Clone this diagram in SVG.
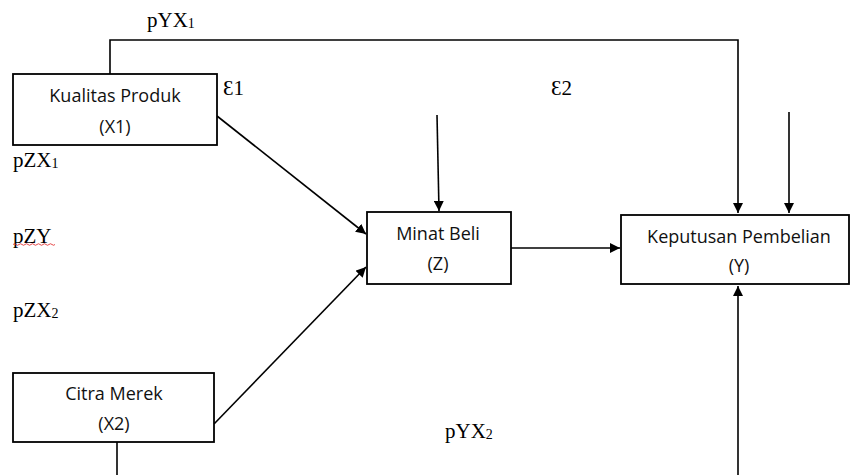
<svg xmlns="http://www.w3.org/2000/svg" width="850" height="475" viewBox="0 0 850 475">
<style>
.box{fill:#fff;stroke:#000;stroke-width:1.8}
.lbl{font-family:"Open Sans","Noto Sans","Liberation Sans",sans-serif;font-size:18px;fill:#111;text-anchor:middle}
.sym{font-family:"Liberation Serif","Times New Roman",serif;font-size:21px;fill:#000}
.sub{font-size:14px}
.ln{fill:none;stroke:#000;stroke-width:1.6}
</style>
<defs>
<marker id="ah" markerWidth="10" markerHeight="10" viewBox="0 0 10 10" refX="10" refY="5" orient="auto" markerUnits="userSpaceOnUse">
<path d="M0,0 L10,5 L0,10 z" fill="#000"/>
</marker>
</defs>
<rect width="850" height="475" fill="#fff"/>
<g id="connectors">
<path class="ln" d="M110,74 V40 H738 V213" marker-end="url(#ah)"/>
<path class="ln" d="M789,112 V213" marker-end="url(#ah)"/>
<path class="ln" d="M437,115 L439,211" marker-end="url(#ah)"/>
<path class="ln" d="M217,116 L366,234" marker-end="url(#ah)"/>
<path class="ln" d="M214,424 L366,267" marker-end="url(#ah)"/>
<path class="ln" d="M511,248 L620,248" marker-end="url(#ah)"/>
<path class="ln" d="M738,475 V286" marker-end="url(#ah)"/>
<path class="ln" d="M117,442 V475"/>
</g>
<g id="x1">
<rect class="box" x="13" y="74" width="204" height="71"/>
<text class="lbl" x="115" y="102">Kualitas Produk</text>
<text class="lbl" x="115" y="133">(X1)</text>
</g>
<g id="x2">
<rect class="box" x="13" y="373" width="201" height="69"/>
<text class="lbl" x="114" y="400">Citra Merek</text>
<text class="lbl" x="114" y="430">(X2)</text>
</g>
<g id="z">
<rect class="box" x="367" y="212" width="144" height="72"/>
<text class="lbl" x="438" y="240">Minat Beli</text>
<text class="lbl" x="438" y="270">(Z)</text>
</g>
<g id="y">
<rect class="box" x="621" y="215" width="228" height="69"/>
<text class="lbl" x="739" y="243">Keputusan Pembelian</text>
<text class="lbl" x="739" y="272">(Y)</text>
</g>
<g id="labels">
<text class="sym" x="147" y="27">pYX<tspan class="sub" dy="1">1</tspan></text>
<text class="sym" x="223" y="95">Ɛ1</text>
<text class="sym" x="551" y="95">Ɛ2</text>
<text class="sym" x="13" y="167">pZX<tspan class="sub" dy="1">1</tspan></text>
<text class="sym" x="13" y="243">pZY</text>
<text class="sym" x="13" y="317">pZX<tspan class="sub" dy="1">2</tspan></text>
<text class="sym" x="445" y="438">pYX<tspan class="sub" dy="1">2</tspan></text>
<path d="M13,244.5 q1.5,-1.5 3,0 t3,0 t3,0 t3,0 t3,0 t3,0 t3,0 t3,0 t3,0 t3,0 t3,0 t3,0 t3,0 t3,0" fill="none" stroke="#e02020" stroke-width="0.8"/>
</g>
</svg>
